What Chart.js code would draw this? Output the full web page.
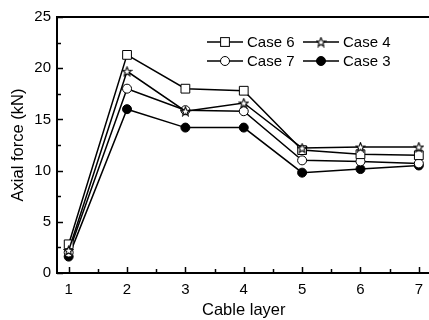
<!DOCTYPE html>
<html>
<head>
<meta charset="utf-8">
<script src="https://cdn.jsdelivr.net/npm/chart.js@4/dist/chart.umd.min.js"></script>
<style>
  html, body { margin: 0; padding: 0; background: #fff; overflow: hidden; }
  #wrap { width: 431px; height: 320px; }
</style>
</head>
<body>
<div id="wrap"><canvas id="chart" width="431" height="320"></canvas></div>
<script>
const layers = [1, 2, 3, 4, 5, 6, 7]
const case6 = [2.8, 21.3, 18.0, 17.8, 12.0, 11.6, 11.5]
const case4 = [2.2, 19.7, 15.8, 16.6, 12.2, 12.3, 12.3]
const case7 = [2.0, 18.0, 15.9, 15.8, 11.0, 10.9, 10.7]
const case3 = [1.6, 16.0, 14.2, 14.2, 9.8, 10.15, 10.5]
const yTicks = [0, 5, 10, 15, 20, 25]

const FONT = "'Liberation Sans', Arial, sans-serif"

// open five-point star marker
function makeStar() {
  const c = document.createElement("canvas")
  c.width = 11
  c.height = 11
  const g = c.getContext("2d")
  g.beginPath()
  for (let i = 0; i < 10; i++) {
    const r = i % 2 === 0 ? 4.8 : 2.1
    const a = -Math.PI / 2 + i * Math.PI / 5
    const px = 5.5 + r * Math.cos(a)
    const py = 5.9 + r * Math.sin(a)
    i === 0 ? g.moveTo(px, py) : g.lineTo(px, py)
  }
  g.closePath()
  g.fillStyle = "#fff"
  g.fill()
  g.lineWidth = 1.1
  g.strokeStyle = "#000"
  g.stroke()
  return c
}
const star = makeStar()

function series(label, values, style, fill, radius) {
  return {
    label,
    data: layers.map((x, i) => ({ x, y: values[i] })),
    borderColor: "#000",
    borderWidth: 1.5,
    pointStyle: style,
    pointRadius: radius,
    pointBackgroundColor: fill,
    pointBorderColor: "#000",
    pointBorderWidth: 1,
    tension: 0
  }
}

const datasets = [
  series("Case 4", case4, star, "#fff", 5),
  series("Case 6", case6, "rect", "#fff", 6.2),
  series("Case 7", case7, "circle", "#fff", 4.5),
  series("Case 3", case3, "circle", "#000", 4.5)
]

function marker(ctx, ds, x, y) {
  ctx.save()
  ctx.lineWidth = 1
  ctx.strokeStyle = "#000"
  ctx.fillStyle = ds.pointBackgroundColor
  const r = ds.pointRadius
  if (ds.pointStyle === "rect") {
    const s = Math.SQRT1_2 * r
    ctx.fillRect(x - s, y - s, 2 * s, 2 * s)
    ctx.strokeRect(x - s, y - s, 2 * s, 2 * s)
  } else if (ds.pointStyle === "circle") {
    ctx.beginPath()
    ctx.arc(x, y, r, 0, Math.PI * 2)
    ctx.fill()
    ctx.stroke()
  } else {
    ctx.drawImage(ds.pointStyle, x - ds.pointStyle.width / 2, y - ds.pointStyle.height / 2)
  }
  ctx.restore()
}

// axes frame with inward major and minor ticks
const frame = {
  id: "frame",
  beforeDatasetsDraw(chart) {
    const { ctx, chartArea: a, scales: { x, y } } = chart
    ctx.save()
    ctx.strokeStyle = "#000"
    ctx.lineWidth = 1.5
    for (let v = 1; v <= 7; v += 0.5) {
      const px = Math.round(x.getPixelForValue(v)) + 0.5
      const len = Number.isInteger(v) ? 6 : 4
      ctx.beginPath()
      ctx.moveTo(px, a.bottom)
      ctx.lineTo(px, a.bottom - len)
      ctx.stroke()
    }
    for (let v = 0; v <= 25; v += 2.5) {
      const py = Math.round(y.getPixelForValue(v)) + 0.5
      const len = v % 5 === 0 ? 6 : 4
      ctx.beginPath()
      ctx.moveTo(a.left, py)
      ctx.lineTo(a.left + len, py)
      ctx.stroke()
    }
    ctx.lineWidth = 2
    ctx.beginPath()
    ctx.moveTo(a.right, a.top)
    ctx.lineTo(a.left, a.top)
    ctx.lineTo(a.left, a.bottom)
    ctx.lineTo(a.right, a.bottom)
    ctx.stroke()
    ctx.restore()
  }
}

// two-row legend inside the plot
const legendBox = {
  id: "legendBox",
  afterDraw(chart) {
    const { ctx } = chart
    const byLabel = {}
    chart.data.datasets.forEach(ds => { byLabel[ds.label] = ds })
    const slots = [
      ["Case 6", 207, 42], ["Case 4", 303, 42],
      ["Case 7", 207, 61], ["Case 3", 303, 61]
    ]
    ctx.save()
    ctx.font = "15px " + FONT
    ctx.textBaseline = "middle"
    ctx.fillStyle = "#000"
    slots.forEach(([label, x0, y0]) => {
      const ds = byLabel[label]
      ctx.strokeStyle = "#000"
      ctx.lineWidth = 1.5
      ctx.beginPath()
      ctx.moveTo(x0, y0)
      ctx.lineTo(x0 + 36, y0)
      ctx.stroke()
      marker(ctx, ds, x0 + 18, y0)
      ctx.fillText(label, x0 + 40, y0 + 1)
    })
    ctx.restore()
  }
}

new Chart(document.getElementById("chart"), {
  type: "line",
  data: { datasets },
  plugins: [frame, legendBox],
  options: {
    responsive: false,
    animation: false,
    layout: { autoPadding: false, padding: { top: 17, right: 0, bottom: 0, left: 0 } },
    plugins: { legend: { display: false }, tooltip: { enabled: false } },
    scales: {
      x: {
        type: "linear",
        min: 0.8,
        max: 7.2,
        afterFit(s) { s.height = 47 },
        afterBuildTicks(s) { s.ticks = layers.map(v => ({ value: v })) },
        grid: { display: false, drawTicks: false },
        border: { display: false },
        ticks: { color: "#000", padding: 8, font: { family: FONT, size: 15 } },
        title: { display: true, text: "Cable layer", color: "#000", padding: { top: 0, bottom: 0 }, font: { family: FONT, size: 16.5 } }
      },
      y: {
        type: "linear",
        min: 0,
        max: 25,
        afterFit(s) { s.width = 57 },
        afterBuildTicks(s) { s.ticks = yTicks.map(v => ({ value: v })) },
        grid: { display: false, drawTicks: false },
        border: { display: false },
        ticks: { color: "#000", padding: 6, font: { family: FONT, size: 15 } },
        title: { display: true, text: "Axial force (kN)", color: "#000", padding: { top: 9, bottom: 0 }, font: { family: FONT, size: 16.5 } }
      }
    }
  }
})
</script>
</body>
</html>
